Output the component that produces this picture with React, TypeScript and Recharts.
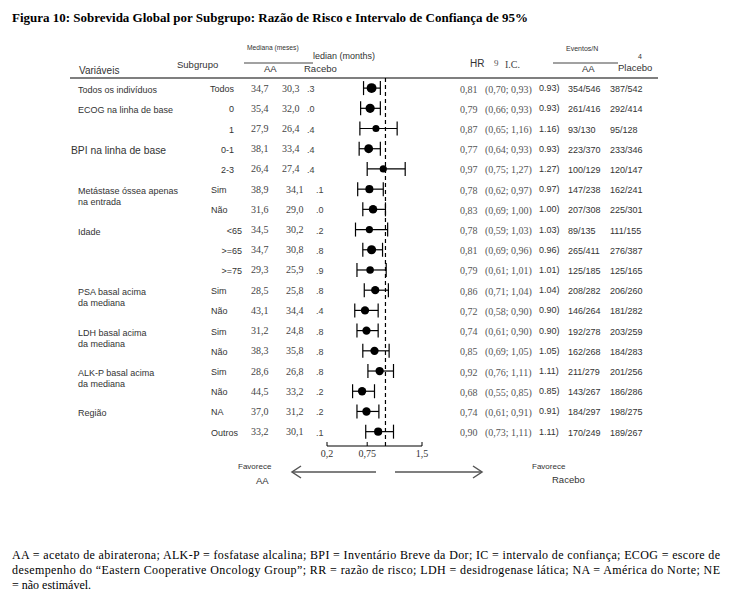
import React from 'react';
import { ScatterChart, Scatter, XAxis, YAxis, ErrorBar, ReferenceLine, Customized } from 'recharts';

const variables = [
  'Todos os indivíduos', 'ECOG na linha de base', '', 'BPI na linha de base', '',
  'Metástase óssea apenas\nna entrada', '', 'Idade', '', '',
  'PSA basal acima\nda mediana', '', 'LDH basal acima\nda mediana', '',
  'ALK-P basal acima\nda mediana', '', 'Região', '',
];
const subgroups = ['Todos', '0', '1', '0-1', '2-3', 'Sim', 'Não', '<65', '>=65', '>=75', 'Sim', 'Não', 'Sim', 'Não', 'Sim', 'Não', 'NA', 'Outros'];
const medianAA = ['34,7', '35,4', '27,9', '38,1', '26,4', '38,9', '31,6', '34,5', '34,7', '29,3', '28,5', '43,1', '31,2', '38,3', '28,6', '44,5', '37,0', '33,2'];
const medianPlacebo = ['30,3', '32,0', '26,4', '33,4', '27,4', '34,1', '29,0', '30,2', '30,8', '25,9', '25,8', '34,4', '24,8', '35,8', '26,8', '33,2', '31,2', '30,1'];
const medianTrail = ['.3', '.0', '.4', '.4', '.4', '.1', '.0', '.2', '.8', '.9', '.8', '.4', '.8', '.8', '.8', '.2', '.2', '.1'];
const hr = [0.81, 0.79, 0.87, 0.77, 0.97, 0.78, 0.83, 0.78, 0.81, 0.79, 0.86, 0.72, 0.74, 0.85, 0.92, 0.68, 0.74, 0.9];
const ciLow = [0.7, 0.66, 0.65, 0.64, 0.75, 0.62, 0.69, 0.59, 0.69, 0.61, 0.71, 0.58, 0.61, 0.69, 0.76, 0.55, 0.61, 0.73];
const ciHigh = [0.93, 0.93, 1.16, 0.93, 1.27, 0.97, 1.0, 1.03, 0.96, 1.01, 1.04, 0.9, 0.9, 1.05, 1.11, 0.85, 0.91, 1.11];
const eventsAA = ['354/546', '261/416', '93/130', '223/370', '100/129', '147/238', '207/308', '89/135', '265/411', '125/185', '208/282', '146/264', '192/278', '162/268', '211/279', '143/267', '184/297', '170/249'];
const eventsPlacebo = ['387/542', '292/414', '95/128', '233/346', '120/147', '162/241', '225/301', '111/155', '276/387', '125/165', '206/260', '181/282', '203/259', '184/283', '201/256', '186/286', '198/275', '189/267'];
const xTicks = [0.2, 0.75, 1.5];

const rowIdx = hr.map((_, i) => i);
// marker size follows the total N of each subgroup
const totalN = rowIdx.map((i) => Number(eventsAA[i].split('/')[1]) + Number(eventsPlacebo[i].split('/')[1]));
const points = rowIdx.map((i) => ({
  row: i,
  hr: hr[i],
  err: [hr[i] - ciLow[i], ciHigh[i] - hr[i]],
  n: totalN[i],
}));

const SANS = 'Liberation Sans, Arial, sans-serif';
const SERIF = 'Liberation Serif, Times New Roman, serif';
const comma = (v: number) => v.toFixed(2).replace('.', ',');

const RowTick = (props: any) => {
  const i = props.payload.value as number;
  const y = props.y;
  const lines = variables[i] ? variables[i].split('\n') : [];
  const isBpi = i === 3;
  let subX = 211;
  let subAnchor: 'start' | 'end' = 'start';
  if (i < 5) { subX = 234; subAnchor = 'end'; }
  else if (i >= 7 && i <= 9) { subX = 242; subAnchor = 'end'; }
  const upper = i < 5;
  return (
    <g>
      {lines.map((l, k) => (
        <text key={k} x={isBpi ? 71 : 78} y={y + 2 + k * 11} fontFamily={SANS} fontSize={isBpi ? 10.3 : 9} fill="#333" dominantBaseline="central">{l}</text>
      ))}
      <text x={subX} y={y + 1} textAnchor={subAnchor} fontFamily={SANS} fontSize={9} fill="#333" dominantBaseline="central">{subgroups[i]}</text>
      <text x={251} y={y} fontFamily={SERIF} fontSize={10} fill="#444" dominantBaseline="central">{medianAA[i]}</text>
      <text x={upper ? 282 : 286} y={y} fontFamily={SERIF} fontSize={10} fill="#444" dominantBaseline="central">{medianPlacebo[i]}</text>
      <text x={upper ? 307 : 316} y={y + 1} fontFamily={SANS} fontSize={9} fill="#444" dominantBaseline="central">{medianTrail[i]}</text>
      <text x={460} y={y + 1} fontFamily={SERIF} fontSize={10} fill="#555" dominantBaseline="central">{comma(hr[i])}</text>
      <text x={485} y={y + 1} fontFamily={SERIF} fontSize={10} fill="#555" dominantBaseline="central">{`(${comma(ciLow[i])}; ${comma(ciHigh[i])})`}</text>
      <text x={539} y={y} fontFamily={SANS} fontSize={9} fill="#333" dominantBaseline="central">{`${ciHigh[i].toFixed(2)})`}</text>
      <text x={568} y={y + 1} fontFamily={SANS} fontSize={9} fill="#333" dominantBaseline="central">{eventsAA[i]}</text>
      <text x={610} y={y + 1} fontFamily={SANS} fontSize={9} fill="#333" dominantBaseline="central">{eventsPlacebo[i]}</text>
    </g>
  );
};

const Decor = () => (
  <g>
    <text x={12} y={22} fontFamily={SERIF} fontWeight="bold" fontSize={13} fill="#000" textLength={516} lengthAdjust="spacingAndGlyphs">
      Figura 10: Sobrevida Global por Subgrupo: Razão de Risco e Intervalo de Confiança de 95%
    </text>

    <text x={79} y={70} fontFamily={SANS} fontSize={10} fill="#333" dominantBaseline="central">Variáveis</text>
    <text x={177} y={64} fontFamily={SANS} fontSize={9.5} fill="#333" dominantBaseline="central">Subgrupo</text>
    <text x={247} y={47} fontFamily={SANS} fontSize={6.7} fill="#333" dominantBaseline="central">Mediana (meses)</text>
    <line x1={244} x2={313} y1={63} y2={63} stroke="#444" strokeWidth={1.2} />
    <text x={264} y={68} fontFamily={SANS} fontSize={9.5} fill="#333" dominantBaseline="central">AA</text>
    <text x={304} y={68} fontFamily={SANS} fontSize={9.5} fill="#333" dominantBaseline="central">Racebo</text>
    <text x={313} y={56} fontFamily={SANS} fontSize={9} fill="#333" dominantBaseline="central">ledian (months)</text>
    <text x={470} y={63} fontFamily={SANS} fontSize={10} fill="#333" dominantBaseline="central">HR</text>
    <text x={494} y={63} fontFamily={SERIF} fontSize={9} fill="#555" dominantBaseline="central">9</text>
    <text x={505} y={64} fontFamily={SERIF} fontSize={10} fill="#444" dominantBaseline="central">I.C.</text>
    <text x={566} y={48} fontFamily={SANS} fontSize={7} fill="#333" dominantBaseline="central">Eventos/N</text>
    <line x1={553} x2={618} y1={63} y2={63} stroke="#444" strokeWidth={1.2} />
    <text x={582} y={68} fontFamily={SANS} fontSize={9.5} fill="#333" dominantBaseline="central">AA</text>
    <text x={618} y={67} fontFamily={SANS} fontSize={9.5} fill="#333" dominantBaseline="central">Placebo</text>
    <text x={638} y={56} fontFamily={SANS} fontSize={7} fill="#333" dominantBaseline="central">4</text>
    <line x1={70} x2={658} y1={78} y2={78} stroke="#555" strokeWidth={1.5} />

    <line x1={292} x2={376} y1={472} y2={472} stroke="#555" strokeWidth={1.5} />
    <polyline points="301,466 292,472 301,478" fill="none" stroke="#555" strokeWidth={1.5} />
    <line x1={395} x2={482} y1={472} y2={472} stroke="#555" strokeWidth={1.5} />
    <polyline points="473,466 482,472 473,478" fill="none" stroke="#555" strokeWidth={1.5} />
    <text x={238} y={466} fontFamily={SANS} fontSize={8} fill="#333" dominantBaseline="central">Favorece</text>
    <text x={256} y={480} fontFamily={SANS} fontSize={9.5} fill="#333" dominantBaseline="central">AA</text>
    <text x={532} y={466} fontFamily={SANS} fontSize={8} fill="#333" dominantBaseline="central">Favorece</text>
    <text x={552} y={479} fontFamily={SANS} fontSize={9.5} fill="#333" dominantBaseline="central">Racebo</text>

    <text x={12} y={559} fontFamily={SERIF} fontSize={12} fill="#000" textLength={708}>
      AA = acetato de abiraterona; ALK-P = fosfatase alcalina; BPI = Inventário Breve da Dor; IC = intervalo de confiança; ECOG = escore de
    </text>
    <text x={12} y={574} fontFamily={SERIF} fontSize={12} fill="#000" textLength={708}>
      desempenho do “Eastern Cooperative Oncology Group”; RR = razão de risco; LDH = desidrogenase lática; NA = América do Norte; NE
    </text>
    <text x={12} y={589} fontFamily={SERIF} fontSize={12} fill="#000">= não estimável.</text>
  </g>
);

const Dot = (p: any) => <circle cx={p.cx} cy={p.cy} r={2.2 + Math.sqrt(p.payload.n) / 12} fill="#000" />;

export default function App() {
  return (
    <div style={{ position: 'absolute', left: 0, top: 0, width: 733, height: 604, background: '#fff' }}>
      <ScatterChart width={733} height={604} margin={{ top: 78, right: 311, bottom: 128, left: 227 }}>
        <XAxis
          type="number"
          dataKey="hr"
          domain={[0.2, 1.5]}
          ticks={xTicks}
          tickFormatter={(v: number) => String(v).replace('.', ',')}
          axisLine={{ stroke: '#000', strokeWidth: 1.2 }}
          tickLine={{ stroke: '#000' }}
          tickSize={-4}
          tickMargin={8}
          height={30}
          tick={{ fontFamily: SERIF, fontSize: 10, fill: '#333' }}
        />
        <YAxis
          type="number"
          dataKey="row"
          domain={[-0.5, 17.71]}
          reversed
          ticks={rowIdx}
          interval={0}
          width={100}
          axisLine={false}
          tickLine={false}
          tick={RowTick}
        />
        <ReferenceLine x={1} stroke="#000" strokeDasharray="4 3" strokeWidth={1.2} />
        <Scatter data={points} shape={Dot} isAnimationActive={false}>
          <ErrorBar dataKey="err" direction="x" width={7} stroke="#000" strokeWidth={1.2} />
        </Scatter>
        <Customized component={Decor} />
      </ScatterChart>
    </div>
  );
}
